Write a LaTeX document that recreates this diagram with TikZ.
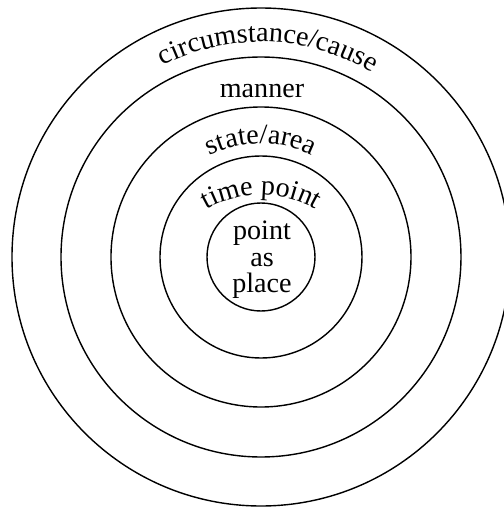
\documentclass[tikz,border=0pt]{standalone}
\usepackage{fontspec}
\setmainfont{Liberation Serif}
\usetikzlibrary{calc,decorations.text}

\tikzset{
    ring/.style={line width=0.8pt},
    ringfont/.style={font=\fontsize{16}{15}\selectfont},
    ringtext/.style={decorate, decoration={text along path, text align=center,
        text={|\fontsize{16}{15}\selectfont|#1}}}
}

\begin{document}
\begin{tikzpicture}
    % fix the frame
        \useasboundingbox (-5.22,-5.04) rectangle (4.86,5.14);
        \coordinate (O) at (0,0);
        \coordinate (T) at (0,-0.96);

    % draw the rings
        \draw[ring] (O) circle (4.98);
        \draw[ring] (O) circle (4.0);
        \draw[ring] (O) circle (3.0);
        \draw[ring] (O) circle (2.02);
        \draw[ring] (O) circle (1.08);

    % % labels bent along the rings
    \path[ringtext={circumstance/cause}] (164:4.3) arc[start angle=164, end angle=12, radius=4.3];
    \path[ringtext={state/area}] (160:2.27) arc[start angle=160, end angle=20, radius=2.27];
    \path[ringtext={time point}] ($(T)+(150:2.2)$) arc[start angle=150, end angle=30, radius=2.2];

    % % straight labels
    \node[anchor=base, ringfont] (manner) at (0.02,3.2) {manner};
    \node[align=center, ringfont] (core) at (0.02,-0.06) {point\\as\\place};

\end{tikzpicture}
\end{document}
